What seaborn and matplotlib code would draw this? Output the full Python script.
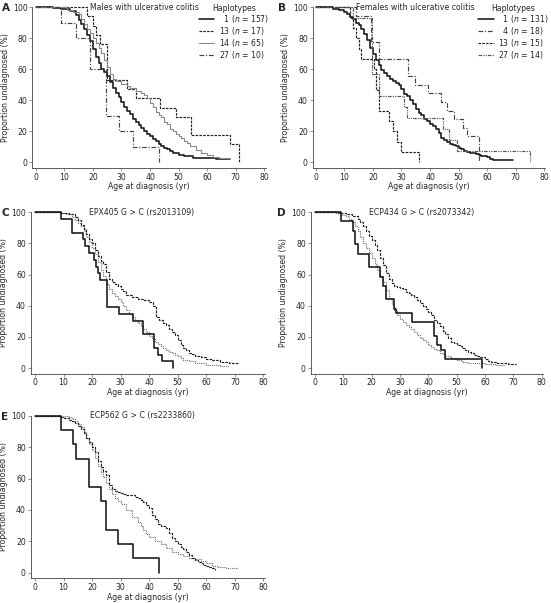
import matplotlib
matplotlib.use("Agg")
import matplotlib.pyplot as plt
import seaborn as sns
import pandas as pd

sns.set_theme(style="white")
plt.rcParams["font.family"] = ["DejaVu Sans"]
plt.rcParams["mathtext.fontset"] = "dejavusans"

# ---------------- data (age at step, proportion undiagnosed %) ----------------
# Panel A: males with UC
A_h1_age = [0, 6, 9, 12, 14, 15, 16, 17, 18, 19, 20, 21, 22, 23, 24, 25, 26, 27, 28, 29, 30, 31, 32, 33, 34,
            35, 36, 37, 38, 39, 40, 41, 42, 43, 44, 45, 46, 47, 48, 50, 52, 55, 58, 63, 68]
A_h1_surv = [100, 99.4, 98.7, 97.5, 95, 92, 89, 86, 82, 78, 73, 68, 64, 60, 58, 56, 52, 48, 45, 42, 39, 36, 33, 31, 28,
             26, 24, 22, 20, 18.5, 17, 15, 13.5, 12, 10.5, 9.5, 8.5, 7.5, 6, 5, 4, 3, 2.5, 2, 2]
A_h13_age = [0, 18, 20, 21, 22.5, 25, 32, 35, 43.5, 49, 54.3, 68, 71]
A_h13_surv = [100, 94.1, 88.2, 82.4, 76.5, 52.9, 47.1, 41.2, 35.3, 29.4, 17.6, 11.8, 0]
A_h14_age = [0, 11, 13, 15, 16, 17, 18, 19, 20, 21, 22, 23, 24, 25, 26, 27, 28, 30, 32, 33, 35, 37, 38, 39,
             40, 41, 42, 43, 44, 45, 46, 47, 48, 49, 50, 51, 52, 53, 54, 56, 58, 60, 62, 64, 68]
A_h14_surv = [100, 98.5, 97, 95.4, 92.3, 89.2, 86.2, 83.1, 80, 76.9, 73.8, 70.8, 66.2, 61.5, 56.9, 53.8, 52.3, 50.8,
              49.2, 47.7, 46.2, 44.6, 43.1, 41.5, 38.5, 35.4, 32.3, 30.8, 29.2, 26.2, 24.6, 21.5, 20, 18.5, 16.9,
              15.4, 13.8, 12.3, 10.8, 7.7, 6.2, 4.6, 3.1, 2.5, 2.5]
A_h27_age = [0, 9, 14, 19, 24.5, 29, 34, 43]
A_h27_surv = [100, 90, 80, 60, 30, 20, 10, 0]

# Panel B: females with UC
B_h1_age = [0, 6, 8, 10, 11, 12, 13, 14, 15, 16, 17, 18, 19, 20, 21, 22, 23, 24, 25, 26, 27, 28, 29, 30, 31,
            32, 33, 34, 35, 36, 37, 38, 39, 40, 41, 42, 43, 44, 45, 46, 47, 48, 49, 50, 51, 52, 53, 54, 56, 57,
            58, 60, 61, 62, 69]
B_h1_surv = [100, 99.2, 98.5, 97, 95.5, 94, 92.4, 90, 88.5, 86, 83, 79, 74, 70, 66, 62.6, 59.5, 57.3, 55.7, 54,
             52.7, 51, 49.6, 47, 44.3, 42.7, 40.5, 37.4, 34.4, 32, 30.5, 28.2, 26.7, 25, 23.7, 21.4, 19, 16, 14.5,
             13, 12, 11.3, 10.5, 9.2, 8.4, 7.6, 6.9, 6.1, 5.3, 4.6, 3.8, 3.1, 2.3, 1.5, 1.5]
B_h4_age = [0, 14, 19.5, 22, 32.2, 34.8, 39.2, 44, 46, 48.5, 51.5, 53, 57.1]
B_h4_surv = [100, 94.4, 77.8, 66.7, 55.6, 50, 44.4, 38.9, 33.3, 27.8, 22.2, 16.7, 0]
B_h13_age = [0, 12, 13, 14, 15, 16, 20.3, 21, 22, 25.5, 27, 28.5, 29.8, 36.3]
B_h13_surv = [100, 93.3, 86.7, 80, 73.3, 66.7, 60, 46.7, 33.3, 26.7, 20, 13.3, 6.7, 0]
B_h27_age = [0, 13, 19.8, 22, 31, 32, 44.5, 46.5, 49.5, 75]
B_h27_surv = [100, 92.9, 57.1, 42.9, 35.7, 28.6, 21.4, 14.3, 7.1, 0]

# Panel C: EPX405 G > C
C_solid_age = [0, 9, 12.8, 16.7, 17.5, 19, 20.5, 21.5, 22, 22.8, 25.3, 29.5, 34.2, 38, 41.8, 43, 44.5, 48.5]
C_solid_surv = [100, 95.7, 87, 82.6, 78.3, 73.9, 69.6, 65.2, 60.9, 56.5, 39.1, 34.8, 30.4, 21.7, 13, 8.7, 4.3, 0]
C_dash_age = [0, 9, 12, 14, 15, 16, 17, 18, 19, 20, 21, 22, 23, 24, 25, 26, 27, 28, 29, 30, 31, 32, 34, 36, 38,
              40, 41.5, 42.5, 43.5, 45, 46, 47, 48, 49, 50, 51, 52, 53, 54, 55, 56, 58, 60, 62, 65, 68, 70, 71]
C_dash_surv = [100, 99.5, 99, 97, 95, 92, 89, 86, 83, 80, 76, 72, 69, 67, 62, 57, 55.5, 54, 52.5, 51, 49.5, 47,
               45.5, 44.5, 44, 42.5, 40, 33, 31, 29, 27.5, 25, 23, 21, 18, 15, 13, 11.5, 10, 9, 8, 7, 6, 5, 4.2,
               3.5, 3, 2.5]
C_dot_age = [0, 9, 11, 13, 14, 15, 16, 17, 18, 19, 20, 21, 22, 23, 24, 25, 26, 27, 28, 29, 30, 31, 32, 33, 34,
             35, 36, 37, 38, 39, 40, 41, 42, 43, 44, 45, 46, 47, 48, 49, 50, 51, 52, 53, 54, 56, 58, 60, 62, 65, 68]
C_dot_surv = [100, 99.5, 99, 97, 95, 93, 91, 88, 84, 81, 77, 73, 68, 63, 59, 54, 51, 48.5, 46.5, 44.5, 42.5, 40,
              37.5, 35, 33, 31, 29, 27, 25, 23, 20.5, 18.5, 17, 15.5, 14, 13, 11.5, 10.5, 9.5, 8.5, 7.5, 6.5, 5.5,
              5, 4.5, 3.5, 3, 2.2, 1.8, 1.5, 1.5]

# Panel D: ECP434 G > C
D_solid_age = [0, 9, 13.5, 14.2, 15, 19, 23, 24, 25, 28, 28.7, 34.1, 42, 43, 44.5, 46, 59]
D_solid_surv = [100, 94.1, 88.2, 79.4, 73.5, 64.7, 58.8, 52.9, 44.1, 38.2, 35.3, 29.4, 20.6, 14.7, 11.8, 5.9, 0]
D_dash_age = [0, 8, 11, 13, 15, 16, 17, 18, 19, 20, 21, 22, 23, 24, 25, 26, 27, 28, 29, 30, 31, 32, 33, 34, 35,
              36, 37, 38, 39, 40, 41, 42, 43, 44, 45, 46, 47, 48, 49, 50, 51, 52, 53, 54, 55, 56, 57, 58, 60, 61,
              62, 64, 66, 68, 71]
D_dash_surv = [100, 99.5, 99, 97.5, 96, 94, 91, 88, 85, 82, 79, 76, 71, 66, 61, 57, 54.5, 53, 52, 51.5, 50.5,
               49, 48, 47, 45.5, 44, 42, 40, 38, 36, 34, 31, 29, 27, 24, 22, 19.5, 17, 16, 15, 14, 13, 11.5, 10.5,
               9.5, 8.5, 7.5, 7, 6, 4.5, 4, 3.5, 3, 2.8, 2.5]
D_dot_age = [0, 7, 9, 11, 12, 13, 14, 15, 16, 17, 18, 19, 20, 21, 22, 23, 24, 25, 26, 27, 28, 29, 30, 31, 32,
             33, 34, 35, 36, 37, 38, 39, 40, 41, 42, 43, 44, 45, 46, 48, 50, 52, 54, 57, 60, 64, 67]
D_dot_surv = [100, 99.3, 98.5, 97.5, 96, 94, 91, 88, 84, 80, 77, 74, 70.5, 67, 63, 59, 55, 50, 45, 41, 37.5, 34,
              31.5, 29.5, 28, 26.5, 25, 23, 21, 19.5, 18, 16.5, 15, 13.5, 12.5, 11.5, 10, 9, 8, 6.5, 5, 4, 3.5, 3,
              2.5, 2, 2]

# Panel E: ECP562 G > C
E_solid_age = [0, 9, 13.2, 14.4, 19, 23, 25, 29.2, 34.4, 43.5]
E_solid_surv = [100, 90.9, 81.8, 72.7, 54.5, 45.5, 27.3, 18.2, 9.1, 0]
E_dash_age = [0, 9, 10, 12, 13, 14, 15, 16, 17, 18, 19, 20, 21, 22, 23, 24, 25, 26, 27, 28, 29, 30, 31, 32, 33,
              34, 35, 36, 37, 38, 39, 40, 41, 42, 43, 44, 45, 46, 47, 48, 49, 50, 51, 52, 53, 54, 55, 56, 57, 58,
              59, 60, 61, 62, 63]
E_dash_surv = [100, 99, 98.5, 97.5, 96.5, 95.5, 93.5, 91.5, 89, 86, 83, 80, 77, 71, 67.5, 65, 62, 56, 53, 52,
               51.5, 50.5, 50, 49.5, 49.5, 49.5, 48.5, 47.5, 46.5, 45, 43, 41, 37, 34, 31, 30, 29.5, 28.5, 25, 22,
               20, 18, 16.5, 15, 13, 11, 9.5, 8, 7, 6, 5, 4.5, 3.5, 3, 2]
E_dot_age = [0, 10, 12, 13, 14, 15, 16, 17, 18, 19, 20, 21, 22, 23, 24, 25, 26, 27, 28, 29, 30, 32, 34, 36, 37,
             38, 39, 40, 42, 44, 46, 48, 50, 52, 54, 56, 58, 60, 62, 64, 67, 71]
E_dot_surv = [100, 99.5, 99, 98, 96.5, 95, 92.5, 89.5, 86, 82, 78, 73, 68, 64, 61, 57, 53, 50, 47.5, 45.5, 44,
              40, 35.5, 32, 30, 27, 24.5, 23, 20, 18, 15.5, 13.5, 12, 10.5, 9.5, 8.5, 7.5, 6, 4.5, 3.5, 3, 2.8]

A_labels = ["\u20071 ($\\it{n}$ = 157)", "13 ($\\it{n}$ = 17)", "14 ($\\it{n}$ = 65)", "27 ($\\it{n}$ = 10)"]
B_labels = ["\u20071 ($\\it{n}$ = 131)", "\u20074 ($\\it{n}$ = 18)", "13 ($\\it{n}$ = 15)", "27 ($\\it{n}$ = 14)"]
titles = ["Males with ulcerative colitis", "Females with ulcerative colitis",
          "EPX405 G > C (rs2013109)", "ECP434 G > C (rs2073342)", "ECP562 G > C (rs2233860)"]
panel_letters = ["A", "B", "C", "D", "E"]
x_ticks = [0, 10, 20, 30, 40, 50, 60, 70, 80]
y_ticks = [0, 20, 40, 60, 80, 100]

# ---------------- styles ----------------
FS = 5.6
S_SOLID = dict(color="#151515", lw=1.15, ls="-")
S_DASH = dict(color="#202020", lw=0.85, ls=(0, (2.2, 1.0)))
S_GREY = dict(color="#8a8a8a", lw=0.8, ls="-")
S_DOT = dict(color="#7a7a7a", lw=0.85, ls=(0, (1.0, 0.8)))
S_DASHDOT = dict(color="#444444", lw=0.85, ls=(0, (4, 1.5, 1, 1.5)))
S_DDD = dict(color="#555555", lw=0.85, ls=(0, (3, 1, 1, 1, 1, 1)))

W, H = 551, 603
fig = plt.figure(figsize=(W / 100, H / 100), dpi=100)
fig.patch.set_facecolor("white")

YBOT = -3.5


def make_ax(spine_px, x0_px, x80_px, right_px, y100_px, y20_px):
    ppu_x = (x80_px - x0_px) / 80.0
    ppu_y = (y20_px - y100_px) / 80.0
    bottom_px = y100_px + (100 - YBOT) * ppu_y
    ax = fig.add_axes([spine_px / W, 1 - bottom_px / H, (right_px - spine_px) / W, (bottom_px - y100_px) / H])
    ax.set_xlim((spine_px - x0_px) / ppu_x, (right_px - x0_px) / ppu_x)
    ax.set_ylim(YBOT, 100)
    return ax


def draw(ax, age, surv, style, label=None):
    df = pd.DataFrame({"age": age, "surv": surv})
    sns.lineplot(data=df, x="age", y="surv", ax=ax, drawstyle="steps-post", estimator=None, sort=False,
                 color=style["color"], linewidth=style["lw"], linestyle=style["ls"], label=label,
                 legend=False, clip_on=False)


def style_ax(ax, title, title_x, letter, letter_xy):
    for s in ["top", "right"]:
        ax.spines[s].set_visible(False)
    for s in ["left", "bottom"]:
        ax.spines[s].set_color("#444444")
        ax.spines[s].set_linewidth(0.6)
    ax.set_xticks(x_ticks)
    ax.set_yticks(y_ticks)
    ax.tick_params(axis="both", direction="out", length=2, width=0.5, color="#666666",
                   labelsize=FS, pad=1.5, left=True, bottom=True)
    ax.set_xlabel("Age at diagnosis (yr)", fontsize=FS, labelpad=0.5)
    ax.set_ylabel("Proportion undiagnosed (%)", fontsize=FS, labelpad=2)
    ax.text(title_x, 100, title, fontsize=FS, ha="center", va="center")
    fig.text(letter_xy[0] / W, 1 - letter_xy[1] / H, letter, fontsize=7.5, fontweight="bold",
             ha="center", va="center")


axA = make_ax(32.3, 35.7, 264.3, 266, 7.3, 131.3)
axB = make_ax(312.7, 315.7, 544.3, 545, 7.3, 131.3)
axC = make_ax(30.7, 35.0, 263.3, 265, 212.3, 337.0)
axD = make_ax(310.7, 315.0, 541.7, 543, 212.3, 337.0)
axE = make_ax(30.7, 35.0, 263.3, 265, 415.7, 541.3)

# Panel A
draw(axA, A_h1_age, A_h1_surv, S_SOLID, A_labels[0])
draw(axA, A_h13_age, A_h13_surv, S_DASH, A_labels[1])
draw(axA, A_h14_age, A_h14_surv, S_GREY, A_labels[2])
draw(axA, A_h27_age, A_h27_surv, S_DASHDOT, A_labels[3])
# Panel B
draw(axB, B_h1_age, B_h1_surv, S_SOLID, B_labels[0])
draw(axB, B_h4_age, B_h4_surv, S_DASHDOT, B_labels[1])
draw(axB, B_h13_age, B_h13_surv, S_DASH, B_labels[2])
draw(axB, B_h27_age, B_h27_surv, S_DDD, B_labels[3])
# Panel C
draw(axC, C_dot_age, C_dot_surv, S_DOT)
draw(axC, C_dash_age, C_dash_surv, S_DASH)
draw(axC, C_solid_age, C_solid_surv, S_SOLID)
# Panel D
draw(axD, D_dot_age, D_dot_surv, S_DOT)
draw(axD, D_dash_age, D_dash_surv, S_DASH)
draw(axD, D_solid_age, D_solid_surv, S_SOLID)
# Panel E
draw(axE, E_dot_age, E_dot_surv, S_DOT)
draw(axE, E_dash_age, E_dash_surv, S_DASH)
draw(axE, E_solid_age, E_solid_surv, S_SOLID)

style_ax(axA, titles[0], 38, panel_letters[0], (6, 8))
style_ax(axB, titles[1], 35, panel_letters[1], (282, 8))
style_ax(axC, titles[2], 37.5, panel_letters[2], (5, 213))
style_ax(axD, titles[3], 37.5, panel_letters[3], (281, 213))
style_ax(axE, titles[4], 37.5, panel_letters[4], (5, 417))

for ax in (axA, axB):
    handles, labels = ax.get_legend_handles_labels()
    leg = ax.legend(handles, labels, title="Haplotypes", loc="upper left", bbox_to_anchor=(0.705, 1.03),
                    frameon=False, fontsize=FS, title_fontsize=FS, handlelength=2.0, handletextpad=0.6,
                    labelspacing=0.0, borderpad=0.2, borderaxespad=0)

fig.savefig("out.png", dpi=100, facecolor="white")
